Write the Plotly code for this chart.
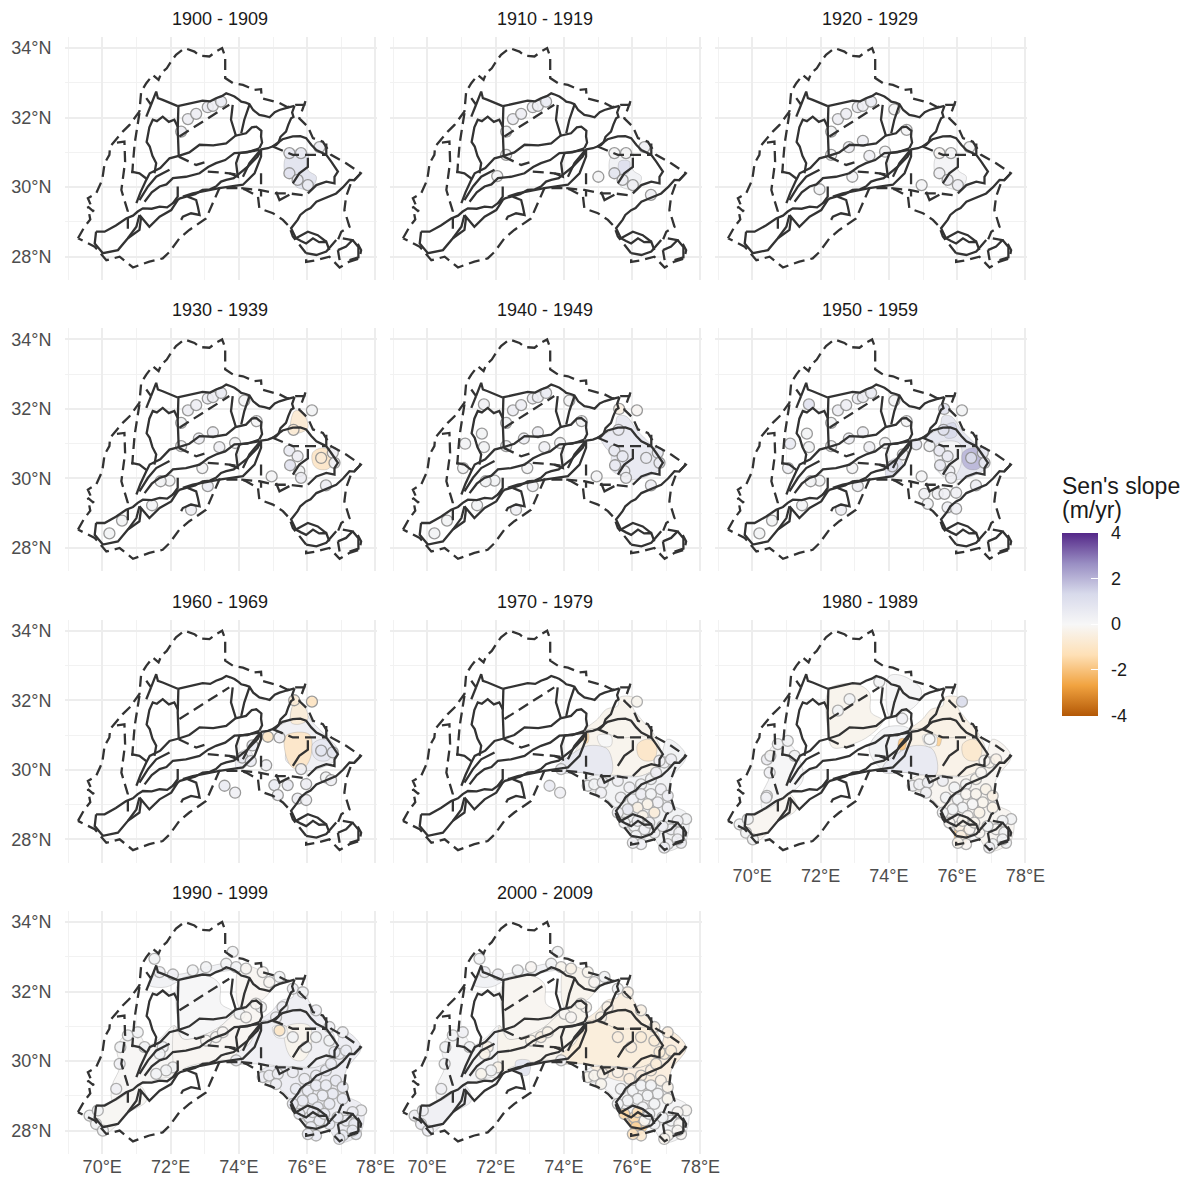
import plotly.graph_objects as go
from plotly.colors import sample_colorscale

# ---------- axis labels ----------
LON_TICKS = [70, 72, 74, 76, 78]
LON_LABELS = ["70°E", "72°E", "74°E", "76°E", "78°E"]
LAT_TICKS = [28, 30, 32, 34]
LAT_LABELS = ["28°N", "30°N", "32°N", "34°N"]
DECADES = ["1900 - 1909", "1910 - 1919", "1920 - 1929", "1930 - 1939", "1940 - 1949",
           "1950 - 1959", "1960 - 1969", "1970 - 1979", "1980 - 1989", "1990 - 1999", "2000 - 2009"]
COLOR_TICKS = [-4, -2, 0, 2, 4]
COLOR_LABELS = ["-4", "-2", "0", "2", "4"]
LEGEND_TITLE = ["Sen's slope", "(m/yr)"]
PUOR = [[0.0, "#b35806"], [1/6, "#f1a340"], [2/6, "#fee0b6"], [0.5, "#f7f7f7"],
        [4/6, "#d8daeb"], [5/6, "#998ec3"], [1.0, "#542788"]]

# ---------- dashed boundaries ----------
OUTER = [(69.29,28.53),(69.48,28.86),(69.65,29.07),(69.58,29.44),(69.75,29.30),(69.58,29.68),(69.82,29.82),
 (70.00,30.21),(70.07,30.69),(70.21,30.93),(70.23,31.17),(70.60,31.60),(70.80,31.79),(71.09,32.18),(71.14,32.75),
 (71.29,32.99),(71.48,33.23),(71.65,33.09),(71.73,33.28),(71.89,33.42),(72.02,33.62),(72.16,33.81),(72.41,34.00),
 (72.70,33.90),(72.85,33.78),(73.14,33.76),(73.33,33.90),(73.51,34.00),(73.60,33.76),(73.60,33.14),(73.83,32.99),
 (74.12,32.94),(74.46,32.80),(74.65,32.82),(74.67,32.56),(74.85,32.51),(75.19,32.42),(75.43,32.30),(75.67,32.37),
 (75.92,32.37),(75.97,32.53),(75.77,31.98),(76.02,31.74),(76.17,31.41),(76.46,31.31),(76.70,30.93),(77.14,30.69),
 (77.57,30.40),(77.28,30.11),(77.14,29.73),(77.09,29.34),(77.24,28.86),(77.00,28.72),(76.90,28.48),(77.04,28.53),
 (77.43,28.46),(77.58,28.19),(77.53,27.95),(77.24,27.86),(76.95,27.69),(76.65,28.00),(76.27,27.90),(75.97,27.85),
 (75.97,28.10),(75.58,28.58),(75.48,28.86),(75.29,29.06),(75.00,29.25),(74.60,29.39),(74.56,29.73),(74.21,29.92),
 (74.07,29.97),(73.43,29.97),(73.04,29.10),(72.55,28.77),(72.26,28.53),(71.97,28.14),(71.77,27.95),(71.38,27.86),
 (70.90,27.69),(70.65,27.90),(70.51,28.00),(70.12,27.90),(69.78,28.29),(69.29,28.53)]
DASH_1 = [(70.43,31.28),(70.65,31.31),(70.67,30.73),(70.60,30.30),(70.56,29.92),(70.75,29.30),(70.75,28.77)]
DASH_2 = [(71.09,32.13),(70.95,31.26),(70.90,30.69),(70.88,30.40)]
DASH_3 = [(72.26,31.46),(73.04,31.94),(73.72,32.37)]
DASH_4 = [(72.24,30.88),(72.75,30.64),(73.04,30.73)]
DASH_5 = [(74.65,30.40),(74.65,29.73)]
DASH_6 = [(74.07,29.97),(74.60,29.92),(75.09,29.82),(75.48,29.82),(75.87,29.77)]
DASH_7 = [(73.09,30.45),(73.72,30.40),(74.02,30.35)]
DASH_8 = [(74.99,31.17),(75.58,30.93),(76.56,30.93)]
DASHED = [OUTER, DASH_1, DASH_2, DASH_3, DASH_4, DASH_5, DASH_6, DASH_7, DASH_8]

# ---------- solid boundaries ----------
S1 = [(72.21,32.33),(72.60,32.42),(72.94,32.49),(73.16,32.47),(73.33,32.56),(73.50,32.62),(73.63,32.70),(73.75,32.66),(73.87,32.61),(74.00,32.52),(74.07,32.46),(74.20,32.43),(74.31,32.39),(74.42,32.22),(74.60,32.08),(74.75,32.05),(74.90,32.01),(75.05,32.16),(75.19,32.22),(75.40,32.28),(75.63,32.34)]
S2 = [(75.63,32.34),(75.56,32.15),(75.60,32.02),(75.53,31.98),(75.45,31.80),(75.38,31.60),(75.22,31.45),(75.16,31.28),(75.09,31.21),(74.85,31.12),(74.65,31.09)]
S3 = [(72.23,32.34),(72.21,31.65),(72.24,30.88)]
S4 = [(69.82,28.72),(70.07,28.72),(70.40,28.90),(70.70,29.10),(70.90,29.18),(71.04,29.30),(71.19,29.39),(71.45,29.38),(71.68,29.44),(71.90,29.42),(72.07,29.54),(72.28,29.68),(72.46,29.73),(72.72,29.80),(72.94,29.92),(73.15,29.94),(73.33,30.02),(73.48,30.16),(73.63,30.21),(73.85,30.26),(74.02,30.40),(74.25,30.58),(74.41,30.74),(74.55,30.88),(74.65,31.07)]
S5 = [(71.00,29.54),(71.12,29.85),(71.29,30.21),(71.39,30.40),(71.70,30.55),(71.97,30.83),(72.24,30.90),(72.55,31.00),(72.85,31.22),(73.25,31.20),(73.63,31.26),(73.90,31.48),(74.21,31.55),(74.38,31.72),(74.51,31.74),(74.66,31.62),(74.65,31.46),(74.68,31.28),(74.60,31.12)]
S6 = [(71.24,29.58),(71.45,29.85),(71.68,30.02),(71.88,30.08),(72.07,30.26),(72.45,30.30),(72.85,30.40),(73.10,30.58),(73.33,30.69),(73.60,30.78),(73.87,30.98),(74.25,31.00),(74.60,31.12)]
S6B = [(71.09,29.63),(71.34,30.02),(71.58,30.30),(71.97,30.50)]
S7 = [(71.09,29.20),(71.00,28.86),(70.75,28.53),(70.46,28.19),(70.02,28.10),(69.78,28.38),(69.82,28.72)]
S8 = [(73.82,32.37),(73.77,31.94),(73.92,31.46)]
S9 = [(74.31,32.37),(74.16,31.94),(74.07,31.55)]
S10 = [(72.21,31.74),(72.11,31.94),(71.95,31.88),(71.77,32.03),(71.60,31.90),(71.48,31.94),(71.38,31.72),(71.34,31.55),(71.30,31.30),(71.39,31.17),(71.47,30.90),(71.58,30.69),(71.53,30.40)]
S11 = [(71.29,32.56),(71.43,32.37),(71.58,32.75),(71.63,32.56),(71.77,32.51),(72.21,32.33)]
S11B = [(71.43,32.37),(71.29,32.03)]
S12 = [(70.85,30.45),(71.09,30.40),(71.29,30.25)]
S13 = [(72.21,30.02),(72.21,29.73),(72.07,29.54)]
S14 = [(74.02,30.98),(73.92,30.69),(73.97,30.30),(73.72,30.40)]
S15 = [(74.02,30.98),(74.31,31.02),(74.60,31.07)]
S15B = [(74.65,31.07),(74.65,30.88),(74.46,30.40),(74.12,30.07),(73.43,29.97),(72.65,29.82),(72.36,29.73)]
S16 = [(74.99,31.17),(75.28,31.38),(75.58,31.46),(75.80,31.47),(75.97,31.41),(76.12,31.22),(76.27,31.07),(76.56,30.93)]
S17 = [(76.56,31.26),(76.56,30.93),(76.70,30.74),(76.90,30.45),(76.80,30.30),(76.80,30.11),(76.56,30.16),(76.27,30.06),(76.02,29.82)]
S18 = [(77.57,30.40),(77.38,30.20),(77.24,30.21),(77.05,30.00),(76.85,29.82),(76.55,29.70),(76.27,29.58),(76.10,29.40),(75.97,29.34),(75.80,29.20),(75.72,29.06),(75.53,28.82),(75.67,28.53),(75.82,28.45),(75.97,28.38),(76.17,28.53),(76.35,28.42),(76.56,28.43),(76.65,28.19)]
S19 = [(76.02,30.85),(76.02,30.58),(75.77,30.40),(75.58,30.11)]
S20 = [(76.90,28.19),(77.14,28.29),(77.33,28.48)]
S20B = [(76.90,28.19),(76.95,27.90)]
S21 = [(72.50,29.73),(72.75,29.63),(72.80,29.44),(72.85,29.20),(72.60,29.25),(72.36,29.15),(72.31,29.06)]
S22 = [(71.09,29.20),(71.38,28.86),(71.68,29.15),(72.02,29.34),(72.21,29.63)]
S23 = [(70.75,28.53),(71.09,28.77),(71.14,29.15)]
S25 = [(74.65,31.09),(74.31,30.69),(74.12,30.30)]
S26 = [(75.09,29.87),(75.19,29.63),(75.48,29.78)]
S27 = [(75.67,28.53),(76.02,28.72),(76.31,28.62),(76.56,28.43)]
S28 = [(75.97,28.10),(76.27,28.05),(76.56,28.15),(76.85,28.48)]
S29 = [(77.33,28.48),(77.50,28.28),(77.50,27.98),(77.24,27.90)]
SOLID = [S1,S2,S3,S4,S5,S6,S6B,S7,S8,S9,S10,S11,S11B,S12,S13,S14,S15,S15B,S16,S17,S18,S19,S20,S20B,S21,S22,S23,S25,S26,S27,S28,S29]

# ---------- surfaces (outline in lon/lat) ----------
E_CORE = [(75.48,31.02),(75.77,31.07),(76.02,30.98),(76.02,30.50),(76.27,30.30),(76.17,30.02),(75.97,29.94),(75.67,30.02),(75.58,30.26),(75.38,30.35),(75.33,30.74)]
E_INNER = [(75.63,30.74),(75.92,30.74),(75.87,30.40),(75.63,30.40)]
E_WIDE = [(75.09,31.17),(75.48,31.46),(75.58,31.79),(75.82,31.79),(76.16,31.36),(76.55,30.98),(76.89,30.59),(76.84,30.30),(76.55,30.11),(76.02,29.97),(75.72,30.06),(75.38,30.26),(75.38,30.69),(75.19,30.93)]
E_TOP = [(75.58,31.46),(75.92,31.60),(75.97,31.22),(75.67,31.17)]
E_KNOT = [(76.16,30.74),(76.45,30.88),(76.70,30.74),(76.65,30.30),(76.36,30.26),(76.18,30.40)]
E_CENTER = [(75.38,30.98),(76.06,31.02),(76.11,30.40),(75.87,30.02),(75.58,30.06),(75.38,30.40)]
E_NTIP = [(75.53,31.36),(75.63,31.94),(75.87,31.89),(76.02,31.46),(75.77,31.31)]
W_SLIVER = [(73.92,30.06),(73.97,30.45),(74.26,30.59),(74.41,30.40),(74.16,30.06)]
Z_SW = [(69.58,28.38),(69.82,28.65),(70.31,28.86),(71.09,29.30),(71.29,28.86),(70.70,28.48),(70.46,28.19),(70.02,27.90)]
Z_WEST = [(70.29,29.30),(70.51,29.82),(70.43,30.40),(70.75,30.80),(71.09,30.74),(71.31,30.45),(71.68,30.64),(72.12,31.02),(72.16,29.63),(71.68,29.49),(71.09,29.30),(70.31,28.86)]
Z_WEST_PART = [(70.29,29.30),(70.51,29.82),(70.43,30.40),(70.75,30.80),(71.09,30.74),(71.31,30.45),(71.49,29.73),(71.09,29.30),(70.31,28.86)]
Z_NSTRIP = [(71.34,32.22),(71.68,32.56),(72.21,32.49),(73.04,32.70),(73.63,32.80),(73.92,32.66),(73.43,32.56),(73.04,32.46),(72.26,32.30),(71.87,32.13),(71.43,32.15)]
Z_CENTRAL = [(72.26,32.32),(73.04,32.46),(73.43,32.22),(73.48,31.65),(73.82,31.41),(73.43,30.98),(72.94,30.74),(72.36,30.64),(72.21,31.17)]
Z_NECHAJ = [(74.02,32.70),(74.41,32.70),(74.94,32.32),(74.89,31.98),(74.65,31.74),(74.41,31.65),(74.02,31.55),(73.92,32.13)]
Z_MID = [(72.12,31.02),(72.36,30.64),(72.94,30.74),(73.43,30.98),(73.87,31.36),(74.21,31.55),(74.60,31.65),(74.65,31.12),(74.31,30.50),(73.87,30.06),(73.38,30.02),(72.46,29.82),(72.16,29.63)]
Z_MID_E = [(73.43,30.69),(73.92,31.22),(74.60,31.17),(74.31,30.50),(73.87,30.02),(73.53,30.30)]
Z_ENORTH = [(74.65,31.17),(74.99,31.46),(75.24,31.74),(75.58,31.84),(75.63,32.08),(76.02,32.08),(76.02,31.79),(76.26,31.46),(76.65,30.98),(76.55,30.93),(75.58,30.93),(74.99,31.17)]
Z_EMID = [(74.65,31.12),(74.99,31.17),(75.58,30.93),(76.65,30.93),(76.84,30.50),(76.75,30.11),(76.26,29.82),(75.97,29.82),(75.09,29.87),(74.50,29.92),(73.82,29.94),(73.87,30.16),(74.31,30.50)]
Z_ELAV = [(73.82,29.94),(73.87,30.16),(74.31,30.50),(74.70,30.69),(75.28,30.59),(75.38,29.87),(74.50,29.92)]
Z_SE = [(74.60,29.63),(74.80,29.82),(76.26,29.82),(76.75,30.11),(77.04,30.88),(77.58,30.40),(77.14,29.73),(77.09,29.06),(77.58,28.77),(77.67,28.53),(77.53,27.90),(76.94,27.66),(76.55,28.10),(76.02,27.81),(75.97,28.19),(75.58,28.58),(75.53,28.86),(74.99,29.34),(74.60,29.44)]
Z_SE_N = [(74.80,29.82),(76.26,29.82),(76.75,30.11),(77.04,30.88),(77.58,30.40),(77.14,29.73),(77.09,29.34),(76.26,29.44),(75.58,29.44)]
SE_FAR = [(75.77,28.58),(76.11,28.38),(76.45,28.10),(76.06,27.81),(75.97,28.10)]
SE_1980 = [(75.97,28.38),(76.26,28.34),(76.26,27.90),(75.97,27.81)]
BLOB_A = [(74.31,30.88),(74.50,30.88),(74.46,30.59),(74.29,30.59)]
BLOB_B = [(74.60,31.07),(74.72,31.05),(74.70,30.78),(74.60,30.78)]
BLOB_C = [(70.46,30.54),(70.60,30.54),(70.60,30.26),(70.49,30.26)]
BLOB_D = [(75.33,30.88),(75.53,30.93),(75.48,30.69),(75.33,30.74)]
BLOB_E = [(72.60,30.00),(73.00,30.00),(72.95,29.60),(72.65,29.65)]
HOLE = [(74.99,30.98),(75.38,30.98),(75.38,30.69),(75.09,30.69)]

SURFACE_1900 = [(E_CORE, 0.85)]
SURFACE_1910 = [(E_CORE, 0.25), (E_INNER, 1.0)]
SURFACE_1920 = [(E_CORE, 0.15)]
SURFACE_1930 = [(E_NTIP, -0.7), (E_KNOT, -0.9)]
SURFACE_1940 = [(E_WIDE, 0.6)]
SURFACE_1950 = [(E_WIDE, 0.75), (E_CENTER, 0.15), (E_TOP, 1.3), (E_KNOT, 1.9), (W_SLIVER, 0.9)]
SURFACE_1960 = [(E_WIDE, 0.3), (E_CENTER, -0.9), (E_NTIP, -0.6), (E_KNOT, 0.7), (W_SLIVER, 0.4)]
SURFACE_1970 = [(Z_ENORTH, -0.2), (Z_EMID, -0.2), (Z_ELAV, 0.65), (Z_SE, 0.2), (E_KNOT, -0.9), (BLOB_B, -1.4), (HOLE, 0.0)]
SURFACE_1980 = [(Z_SW, -0.12), (Z_WEST_PART, 0.05), (Z_CENTRAL, -0.2), (Z_NECHAJ, 0.1), (Z_MID_E, 0.2), (Z_ENORTH, -0.35), (Z_EMID, -0.3),
                (Z_ELAV, 0.6), (Z_SE, -0.12), (SE_1980, -1.8), (BLOB_A, -1.9), (BLOB_C, -1.3), (BLOB_D, -1.6), (E_KNOT, -0.8), (HOLE, 0.0)]
SURFACE_1990 = [(Z_SW, -0.08), (Z_WEST, -0.05), (Z_NSTRIP, 0.25), (Z_CENTRAL, 0.03), (Z_NECHAJ, -0.1), (Z_MID, -0.1), (Z_ENORTH, 0.35),
                (Z_EMID, 0.3), (Z_SE, 0.45), (E_CENTER, -0.2), (HOLE, 0.0)]
SURFACE_2000 = [(Z_SW, 0.3), (Z_WEST, 0.1), (Z_NSTRIP, 0.25), (Z_CENTRAL, -0.12), (Z_NECHAJ, -0.2), (Z_MID, -0.2), (Z_ENORTH, -0.45),
                (Z_EMID, -0.55), (Z_SE, 0.1), (Z_SE_N, -0.5), (SE_FAR, -1.7), (BLOB_E, 0.8)]
SURFACES = [SURFACE_1900, SURFACE_1910, SURFACE_1920, SURFACE_1930, SURFACE_1940,
            SURFACE_1950, SURFACE_1960, SURFACE_1970, SURFACE_1980, SURFACE_1990, SURFACE_2000]

# ---------- wells ----------
WELLS_A = [(72.31,31.60),(72.51,31.96),(72.75,32.11),(73.09,32.30),(73.24,32.34),(73.48,32.46)]
WELLS_B = [(75.48,30.98),(75.82,30.98),(75.48,30.40),(75.72,30.21),(76.02,30.06),(76.36,31.15)]
WELLS_C = [(72.31,30.93),(73.43,30.90),(72.93,30.30),(71.97,29.94),(74.16,32.24),(74.52,31.65),(73.24,31.33),(72.83,31.15),(73.89,31.02),(74.96,30.06)]
WELLS_C2 = [(72.05,30.32),(75.01,30.30),(76.55,29.78)]
WELLS_D = [(76.14,31.96),(70.21,28.42),(70.58,28.79),(71.46,29.23),(72.60,29.10),(73.09,29.78),(71.71,29.92),(75.48,30.80),(75.50,30.38),(75.72,30.64),(75.77,30.21),(75.82,30.02),(76.55,29.80),(76.41,30.59),(76.75,30.74),(76.80,30.45),(75.60,31.40)]
WELLS_F = [(71.66,32.13),(71.60,31.29),(71.11,31.00),(71.66,30.90),(71.05,30.30),(75.62,32.00)]
WELLS_G = [(74.80,30.98),(75.19,30.93),(74.41,30.69),(74.10,30.35),(75.04,29.56),(75.14,29.27),(75.43,29.56),(75.63,29.56),(75.97,29.59),(75.72,29.17),(75.97,29.13)]
WELLS_H = [(73.58,29.54),(73.89,29.34),(76.14,31.96),(75.62,32.00),(74.85,30.95),(75.19,30.93),(74.80,30.13),(75.04,29.56),(75.14,29.27),(75.43,29.56),(75.97,29.59),(75.72,29.17),(75.97,29.13),(76.55,29.78),(76.70,29.70),(74.10,30.35),(74.35,30.25),(74.40,30.70),(76.41,30.55),(76.75,30.50),(75.82,30.02)]
WELLS_L = [(76.14,31.96),(73.58,29.54),(73.89,29.34),(73.92,30.02)]
WELLS_M = [(76.14,31.96),(72.85,32.03),(73.72,32.53),(74.39,31.47),(72.51,31.70),(70.43,29.25),(70.43,30.30),(75.19,30.88)]
WELLS_SE = [(74.70,29.54),(74.89,29.58),(75.14,29.63),(75.58,29.68),(75.92,29.49),(76.26,29.58),(76.55,29.73),(76.70,29.92),(76.94,30.21),(77.14,30.30),(76.80,30.26),
 (75.09,29.34),(75.67,29.20),(76.02,29.15),(76.26,29.30),(76.55,29.30),(76.84,29.44),(77.04,29.25),(76.75,29.06),(76.45,29.01),(76.16,28.91),(75.87,28.86),
 (76.31,28.67),(76.65,28.77),(77.04,28.91),(77.58,28.58),(77.33,28.53),(77.14,28.29),(77.38,28.19),(77.43,27.90),(77.04,27.86),(76.94,27.76),(76.65,28.19),
 (76.36,28.29),(76.06,28.38),(76.11,28.10),(76.26,27.86),(76.02,27.90),(75.77,28.48),(75.58,28.77),(77.33,28.00),(76.89,28.38),(76.16,28.53),(76.50,28.48)]
EDGE_W = [(69.63,28.43),(69.82,28.19),(70.02,28.00),(69.87,28.58),(70.41,29.20),(70.51,29.92),(70.53,30.40),(70.75,30.74),(71.04,30.83),(71.24,30.40)]
EDGE_N = [(71.53,32.94),(71.68,32.56),(72.07,32.49),(72.65,32.61),(73.04,32.70),(73.63,32.80),(73.92,32.70),(73.82,33.14),(74.21,32.66),(74.70,32.56),(74.89,32.27),(75.19,32.42),(75.58,32.08),(75.87,31.98),(74.65,31.55),(74.50,31.65),(74.02,31.36)]
EDGE_I = [(71.77,30.40),(72.07,29.82),(71.87,29.73),(71.58,29.63),(71.68,30.21),(73.04,30.59),(73.33,30.69),(73.53,30.83),(74.21,31.26),(73.92,30.02)]
EDGE_E = [(75.09,31.26),(75.28,31.55),(76.26,31.46),(76.65,30.98),(77.04,30.83),(75.58,30.69),(75.97,30.40),(76.26,30.69),(76.65,30.59)]
DOT_HOT = [(75.19,30.88)]

DOTS_1900 = [(WELLS_A,[.4,.4,.4,.45,.4,.5]),(WELLS_B,[.6,.6,.9,.6,.5,.4])]
DOTS_1910 = [(WELLS_A,[.2,.4,.4,.4,.4,.5]),(WELLS_B,[.1,.1,.8,.4,.4,.3]),(WELLS_C[:1],[.2]),(WELLS_C2,[.15,.1,.3])]
DOTS_1920 = [(WELLS_A,[.2,.4,.4,.4,.4,.5]),(WELLS_B,[-.1,.1,.3,.4,.4,.1]),(WELLS_C,[.2,.3,.15,.2,.1,.15,.35,.35,.15,.15])]
C_1930 = [.2,.3,.15,.2,.1,.15,.35,.35,.15,.15]
DOTS_1930 = [(WELLS_A,[.2,.4,.4,.4,.4,.5]),(WELLS_C,C_1930),(WELLS_D,[.2,.2,.2,.2,.3,.5,.2,.5,.9,.4,.2,.4,.4,-.7,.3,.3,-.7])]
DOTS_1940 = [(WELLS_A,[.2,.4,.4,.4,.4,.5]),(WELLS_C,C_1930),(WELLS_D,[-.1,.2,.2,.2,.3,.3,.2,.6,.6,.6,.3,.3,.4,.5,.6,.5,.6]),(WELLS_F,[.3,.2,.2,.2,.2,-.4])]
DOTS_1950 = [(WELLS_A,[.2,.4,.4,.4,.4,.5]),(WELLS_C,C_1930),(WELLS_D,[.2,.2,.2,.2,.3,.3,.2,.6,.6,.6,.3,.3,.4,1.2,.7,.7,.9]),(WELLS_F,[.9,.2,.6,.2,.3,.9]),(WELLS_G,[.7,.2,.3,1.0,.3,.2,.3,.3,.3,.3,.3])]
DOTS_1960 = [(WELLS_H,[.5,.3,-1.1,-.7,-1.0,.3,.3,.5,.3,.6,.4,.4,.3,.2,.3,.7,.5,.5,.8,.8,.3])]
DOTS_1970 = [(WELLS_L,[-.2,.5,.3,.4]),(WELLS_SE,[.2,.2,.4,.3,.3,.2,.2,.4,.3,.4,.3,.3,.3,.3,.4,.2,.3,.4,.3,-.3,-.4,.7,-.3,-.6,.3,.2,.3,.4,.3,.4,.3,.4,.3,.3,.2,.2,.3,.3,.2,.4,.4,.4,.3,.3])]
DOTS_1980 = [(WELLS_M,[1.2,.2,.2,.3,.2,.3,.4,.0]),(EDGE_W,[.2,.2,.2,.2,.3,.3,.2,.2,.2,.2]),(WELLS_SE,[.3,.3,.4,.4,.2,.1,-.2,-.1,-.2,-.3,-.1,.3,.2,.2,-.1,-.2,-.3,-.4,-.2,.1,.2,.2,-.1,-.3,-.3,.2,.2,-.1,.2,.2,.2,.3,-.1,-.1,-.2,-.3,-.1,-.2,-.1,.2,.2,.2,-.2,-.2])]
DOTS_1990 = [(EDGE_W,[.2,.2,.2,.2,.3,.3,.2,.2,.2,.2]),(EDGE_N,[.2,.3,.4,.2,.2,.2,.2,.2,-.1,-.1,-.1,.2,.3,.2,.2,-.1,.2]),(EDGE_I,[.2,.2,.2,.2,.2,-.1,-.1,-.1,-.1,.4]),(EDGE_E,[.4,.4,.3,.3,.3,.2,.2,.2,.2]),
             (WELLS_SE,[.4,.4,.4,.4,.4,.4,.5,.5,.5,.5,.5,.4,.5,.5,.5,.5,.6,.6,.6,.5,.5,.6,.6,.6,.6,.3,.4,.6,.6,.6,.6,.6,.6,.6,.5,.5,.6,.6,.6,.6,.6,.6,.6,.6]),(DOT_HOT,[-1.0])]
DOTS_2000 = [(EDGE_W,[.4,.4,.4,.3,.3,.2,.2,.2,.3,.2]),(EDGE_N,[.2,.4,.4,.2,-.1,.2,-.2,.2,-.3,-.2,-.1,.2,.2,-.3,-.2,-.2,-.1]),(EDGE_I,[-.3,-.3,.2,-.2,-.3,-.3,-.4,-.3,-.1,.3]),(EDGE_E,[-.3,-.3,-.4,-.4,-.5,-.5,-.5,-.6,-.6]),
             (WELLS_SE,[-.2,-.2,-.3,-.3,-.5,-.5,-.5,-.6,-.6,-.6,-.6,-.2,.2,.2,.2,.2,-.3,-.3,.2,.2,.2,.2,.2,.2,-.2,-.1,-.1,.2,-.1,-.1,-.2,-.2,.2,-.1,-1.4,-1.6,-.8,-1.2,-1.5,.2,-.1,.2,-1.3,.2])]
DOTS = [DOTS_1900, DOTS_1910, DOTS_1920, DOTS_1930, DOTS_1940, DOTS_1950, DOTS_1960, DOTS_1970, DOTS_1980, DOTS_1990, DOTS_2000]

PANELS = [(0,0),(0,1),(0,2),(1,0),(1,1),(1,2),(2,0),(2,1),(2,2),(3,0),(3,1)]
W, H = 1192, 1185
X0, X1, DX = 65.0, 376.5, 325.0
Y0, Y1, DY = 37.0, 280.0, 291.3


def joined(paths):
    xs, ys = [], []
    for p in paths:
        xs += [q[0] for q in p] + [None]
        ys += [q[1] for q in p] + [None]
    return xs, ys


def fill_color(v):
    return sample_colorscale(PUOR, [(v + 4) / 8])[0]


fig = go.Figure()
annotations = []
layout = {}
for i, (row, col) in enumerate(PANELS):
    n = i + 1
    xa, ya = f"x{n}", f"y{n}"
    left, right = (X0 + DX * col) / W, (X1 + DX * col) / W
    top, bottom = 1 - (Y0 + DY * row) / H, 1 - (Y1 + DY * row) / H
    show_x = (row == 3) or (row == 2 and col == 2)
    show_y = col == 0
    grid = dict(showgrid=True, gridcolor="#ededed", gridwidth=2, zeroline=False, showline=False)
    layout[f"xaxis{n}"] = dict(domain=[left, right], range=[68.91, 78.03], anchor=ya, tickmode="array",
                               tickvals=LON_TICKS, ticktext=LON_LABELS, showticklabels=show_x, ticks="",
                               tickfont=dict(size=18, color="#4d4d4d"),
                               minor=dict(tickmode="linear", tick0=69, dtick=2, showgrid=True,
                                          gridcolor="#f2f2f2", gridwidth=1, ticks=""), **grid)
    layout[f"yaxis{n}"] = dict(domain=[bottom, top], range=[27.33, 34.32], anchor=xa, tickmode="array",
                               tickvals=LAT_TICKS, ticktext=LAT_LABELS, showticklabels=show_y,
                               ticks="outside", ticklen=9, tickcolor="rgba(0,0,0,0)",
                               tickfont=dict(size=18, color="#4d4d4d"),
                               minor=dict(tickmode="linear", tick0=29, dtick=2, showgrid=True,
                                          gridcolor="#f2f2f2", gridwidth=1, ticks=""), **grid)
    annotations.append(dict(text=DECADES[i], xref="paper", yref="paper", x=(left + right) / 2 - 0.5 / W,
                            y=1 - (19 + DY * row) / H, xanchor="center", yanchor="middle", showarrow=False,
                            font=dict(size=18, color="#1a1a1a")))
    for poly, value in SURFACES[i]:
        ring = poly + poly[:1]
        fig.add_trace(go.Scatter(x=[p[0] for p in ring], y=[p[1] for p in ring], xaxis=xa, yaxis=ya, mode="lines",
                                 fill="toself", fillcolor=fill_color(value),
                                 line=dict(width=0.8, shape="spline", color="rgba(130,130,130,0.35)"),
                                 hoverinfo="skip", showlegend=False))
    rim = "#8f8f8f" if i < 7 else "#a6a6a6"
    for wells, values in DOTS[i]:
        fig.add_trace(go.Scatter(x=[p[0] for p in wells], y=[p[1] for p in wells], xaxis=xa, yaxis=ya, mode="markers",
                                 marker=dict(size=11, color=values[:len(wells)], coloraxis="coloraxis", opacity=0.9,
                                             line=dict(width=1.3, color=rim)),
                                 hoverinfo="skip", showlegend=False))
    sx, sy = joined(SOLID)
    fig.add_trace(go.Scatter(x=sx, y=sy, xaxis=xa, yaxis=ya, mode="lines",
                             line=dict(color="#333333", width=2.3), hoverinfo="skip", showlegend=False))
    dx, dy = joined(DASHED)
    fig.add_trace(go.Scatter(x=dx, y=dy, xaxis=xa, yaxis=ya, mode="lines",
                             line=dict(color="#333333", width=2.3, dash="11px,6px"), hoverinfo="skip", showlegend=False))

# invisible carrier of the second, label-less colour bar that draws the white ticks inside the bar
fig.add_trace(go.Scatter(x=[72], y=[30], xaxis="x1", yaxis="y1", mode="markers",
                         marker=dict(size=1, opacity=0, color=[0], coloraxis="coloraxis2"),
                         hoverinfo="skip", showlegend=False))

for text, py in zip(LEGEND_TITLE, (486, 510)):
    annotations.append(dict(text=text, xref="paper", yref="paper", x=1060 / W, y=1 - py / H, xanchor="left",
                            yanchor="middle", showarrow=False, font=dict(size=23, color="#1a1a1a")))

bar = dict(x=1062 / W, xanchor="left", y=1 - 532.5 / H, yanchor="top", lenmode="pixels", len=183,
           thicknessmode="pixels", thickness=36, xpad=0, ypad=0, outlinewidth=0, borderwidth=0,
           tickmode="array", tickvals=COLOR_TICKS, ticktext=COLOR_LABELS)
fig.update_layout(
    width=W, height=H, margin=dict(l=0, r=0, t=0, b=0, autoexpand=False), paper_bgcolor="white", plot_bgcolor="white",
    font=dict(family="Liberation Sans, Arial, sans-serif"), annotations=annotations, showlegend=False,
    coloraxis=dict(cmin=-4, cmax=4, colorscale=PUOR, colorbar=dict(
        ticks="outside", ticklen=10, tickcolor="white", tickfont=dict(size=18, color="#1a1a1a"), **bar)),
    coloraxis2=dict(cmin=-4, cmax=4, colorscale=PUOR, colorbar=dict(
        ticks="inside", ticklen=7, tickcolor="white", showticklabels=False, **bar)),
    **layout)
fig.write_html("out.html", post_script="document.body.style.margin='0';", config={"displayModeBar": False})
